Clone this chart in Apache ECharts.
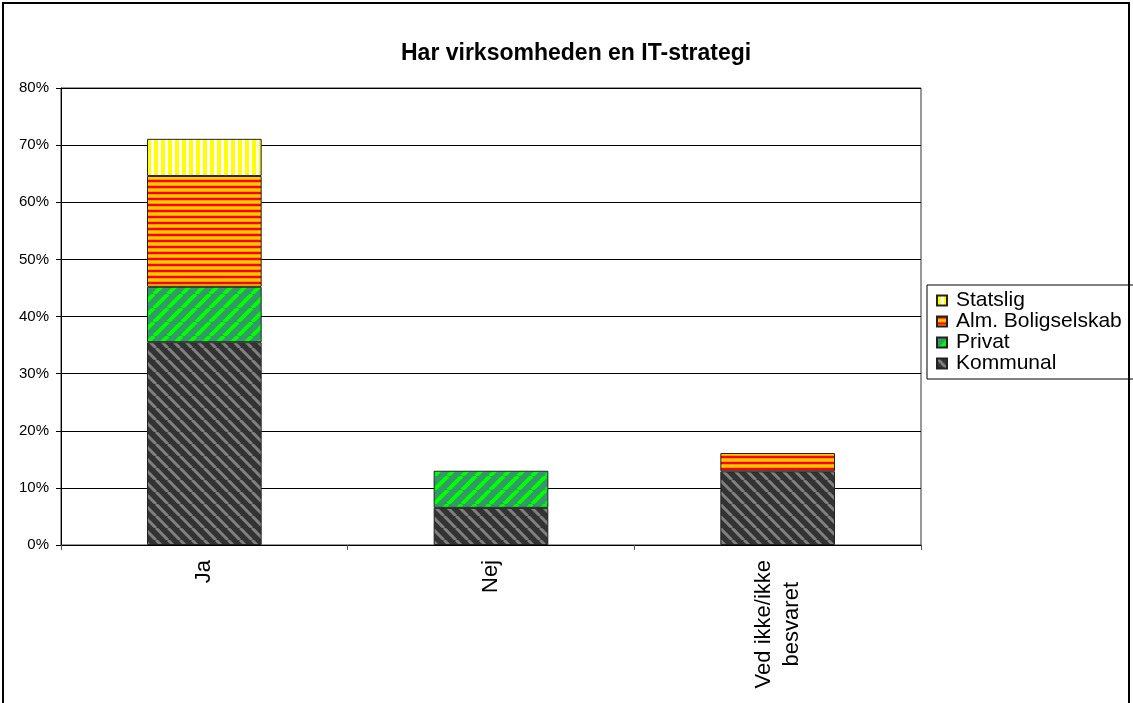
<!DOCTYPE html>
<html>
<head>
<meta charset="utf-8">
<script src="https://cdn.jsdelivr.net/npm/echarts@6/dist/echarts.min.js"></script>
<style>
  html, body { margin: 0; padding: 0; background: #fff; }
  #chart { width: 1133px; height: 703px; }
</style>
</head>
<body>
<div id="chart"></div>
<script>
var categories = ['Ja', 'Nej', 'Ved ikke/ikke\nbesvaret'];
var kommunal = [35.5, 6.5, 12.9];
var privat = [9.7, 6.5, null];
var almBolig = [19.4, null, 3.2];
var statslig = [6.5, null, null];
var legendOrder = ['Statslig', 'Alm. Boligselskab', 'Privat', 'Kommunal'];

var FONT = 'Liberation Sans, Arial, sans-serif';

// small canvas tiles used as repeating fills (Excel style hatch)
function makePattern(w, h, draw) {
    var c = document.createElement('canvas');
    c.width = w;
    c.height = h;
    draw(c.getContext('2d'), w, h);
    return { image: c, repeat: 'repeat' };
}

var kommunalFill = makePattern(12, 12, function (ctx, w, h) {
    ctx.fillStyle = '#333333';
    ctx.fillRect(0, 0, w, h);
    ctx.strokeStyle = '#808080';
    ctx.lineWidth = 3;
    for (var k = -1; k <= 1; k++) {
        ctx.beginPath();
        ctx.moveTo(k * w, 0);
        ctx.lineTo(k * w + w, h);
        ctx.stroke();
    }
});

var privatFill = makePattern(14, 14, function (ctx, w, h) {
    ctx.fillStyle = '#339966';
    ctx.fillRect(0, 0, w, h);
    ctx.strokeStyle = '#00ff00';
    ctx.lineWidth = 4;
    for (var k = -1; k <= 1; k++) {
        ctx.beginPath();
        ctx.moveTo(k * w, h);
        ctx.lineTo(k * w + w, 0);
        ctx.stroke();
    }
});

var almFill = makePattern(4, 6, function (ctx, w, h) {
    ctx.fillStyle = '#ff0000';
    ctx.fillRect(0, 0, w, 2);
    ctx.fillStyle = '#ff9900';
    ctx.fillRect(0, 2, w, 1);
    ctx.fillStyle = '#ffcc00';
    ctx.fillRect(0, 3, w, 2);
    ctx.fillStyle = '#ff9900';
    ctx.fillRect(0, 5, w, 1);
});

var statsligFill = makePattern(7, 4, function (ctx, w, h) {
    ctx.fillStyle = '#ffffff';
    ctx.fillRect(0, 0, w, h);
    ctx.fillStyle = '#ffff00';
    ctx.fillRect(0, 0, 4, h);
});

function barSeries(name, data, fill) {
    return {
        name: name,
        type: 'bar',
        stack: 'total',
        barWidth: '40%',
        data: data,
        itemStyle: {
            color: fill,
            borderColor: '#222',
            borderWidth: 1
        }
    };
}

var myChart = echarts.init(document.getElementById('chart'));

var option = {
    animation: false,
    backgroundColor: '#fff',
    title: {
        text: 'Har virksomheden en IT-strategi',
        left: 396,
        top: 37,
        textStyle: { fontFamily: FONT, fontSize: 23, fontWeight: 'bold', color: '#000' }
    },
    legend: {
        orient: 'vertical',
        left: 927,
        top: 285,
        data: legendOrder,
        icon: 'rect',
        itemWidth: 10,
        itemHeight: 10,
        itemGap: 0,
        padding: [5, 14, 5, 9],
        borderColor: '#000',
        borderWidth: 1,
        textStyle: { fontFamily: FONT, fontSize: 21, color: '#000', padding: [0, 0, 0, 4] }
    },
    grid: {
        left: 61,
        right: 212,
        top: 88,
        bottom: 158,
        show: true,
        borderColor: '#333',
        borderWidth: 1,
        containLabel: false
    },
    xAxis: {
        type: 'category',
        data: categories,
        axisLine: { lineStyle: { color: '#000' } },
        axisTick: { show: true, length: 5, lineStyle: { color: '#555' } },
        axisLabel: {
            rotate: 90,
            margin: 15,
            color: '#000',
            formatter: function (v) {
                return v.split('\n').map(function (s) { return '{a|' + s + '}'; }).join('\n');
            },
            rich: {
                a: { fontFamily: FONT, fontSize: 22, lineHeight: 28, align: 'center', color: '#000' }
            }
        }
    },
    yAxis: {
        type: 'value',
        min: 0,
        max: 80,
        interval: 10,
        axisLine: { show: true, lineStyle: { color: '#000' } },
        axisTick: { show: true, length: 5, lineStyle: { color: '#000' } },
        axisLabel: {
            formatter: '{value}%',
            margin: 12,
            fontFamily: FONT,
            fontSize: 15,
            color: '#000'
        },
        splitLine: { lineStyle: { color: '#000', width: 1 } }
    },
    graphic: [{
        type: 'rect',
        silent: true,
        shape: { x: 3, y: 3, width: 1126, height: 760 },
        style: { fill: null, stroke: '#000', lineWidth: 2 }
    }],
    series: [
        barSeries('Kommunal', kommunal, kommunalFill),
        barSeries('Privat', privat, privatFill),
        barSeries('Alm. Boligselskab', almBolig, almFill),
        barSeries('Statslig', statslig, statsligFill)
    ]
};

myChart.setOption(option);
</script>
</body>
</html>
